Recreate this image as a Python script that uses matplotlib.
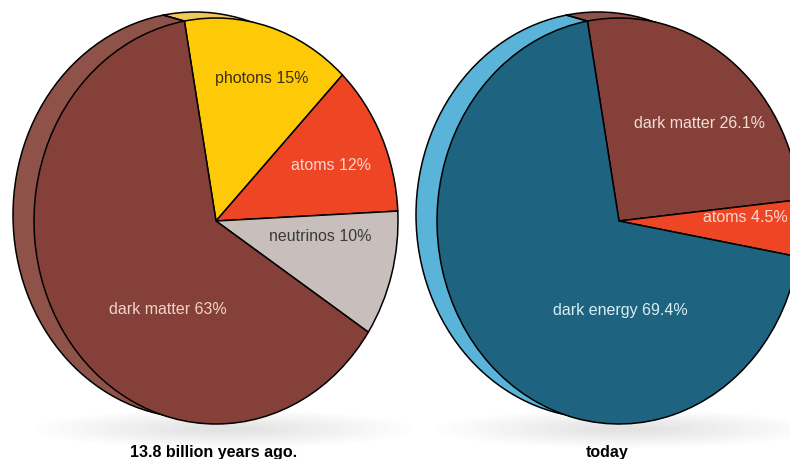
import numpy as np
import matplotlib.pyplot as plt
from matplotlib.patches import Ellipse

# Universe composition, clockwise from the top
early_labels = ["photons", "atoms", "neutrinos", "dark matter"]
early_values = [15, 12, 10, 63]
today_labels = ["dark matter", "atoms", "dark energy"]
today_values = [26.1, 4.5, 69.4]
captions = ["13.8 billion years ago.", "today"]

face = {"dark matter": "#854139", "photons": "#fec907", "atoms": "#ee4524",
        "neutrinos": "#c8bfbc", "dark energy": "#1e6480"}
rim = {"dark matter": "#8f5248", "photons": "#f4c75c", "atoms": "#e86a4f",
       "neutrinos": "#b8aca8", "dark energy": "#5ab3d9"}

W, H = 790, 460
RX, RY = 182, 203          # pixel radii of the tilted disc
SHIFT = (-21, 6)           # back face offset in pixels (x right, y up)

fig = plt.figure(figsize=(W / 100, H / 100), dpi=100)
bg = fig.add_axes([0, 0, 1, 1])
bg.set_xlim(0, W)
bg.set_ylim(H, 0)
bg.axis("off")


def px_text(x, y, s, **kw):
    fig.text(x / W, 1 - y / H, s, **kw)


def tilted_pie(cx, cy, labels, values, start):
    # soft floor shadow
    for k in range(14):
        s = 1 - k * 0.065
        bg.add_patch(Ellipse((cx + 8, cy + 208), 380 * s, 38 * s,
                             color="#a0a0a0", alpha=0.02, lw=0))

    ax = fig.add_axes([0, 0, 1, 1])
    sx, sy = SHIFT[0] / RX, SHIFT[1] / RY

    # side of the disc: stack of copies from back to front
    for t in np.linspace(1, 0.02, 40):
        ax.pie(values, colors=[rim[l] for l in labels], startangle=start,
               counterclock=False, center=(t * sx, t * sy), radius=1,
               wedgeprops=dict(linewidth=0))
    ax.add_patch(Ellipse((sx, sy), 2, 2, fill=False, edgecolor="black", lw=1.1))

    # slice seams running across the visible side
    bounds = start - np.cumsum([0] + values) * 3.6
    for b in bounds:
        th = np.radians(b)
        if SHIFT[0] * np.cos(th) * RY + SHIFT[1] * np.sin(th) * RX > 0:
            ax.plot([np.cos(th), np.cos(th) + sx], [np.sin(th), np.sin(th) + sy],
                    color="black", lw=1.1)

    ax.pie(values, colors=[face[l] for l in labels], startangle=start,
           counterclock=False, radius=1,
           wedgeprops=dict(edgecolor="black", linewidth=1.1))

    ax.set_aspect("auto")
    ax.set_xlim(-cx / RX, (W - cx) / RX)
    ax.set_ylim(-(H - cy) / RY, cy / RY)
    ax.axis("off")


tilted_pie(216, 222, early_labels, early_values, 100)
tilted_pie(619, 222, today_labels, today_values, 100)

label_font = dict(family="Liberation Sans", fontsize=11.5, ha="center", va="center")
slice_text = [
    (262, 78, f"photons {early_values[0]}%", "#3d2f14"),
    (331, 166, f"atoms {early_values[1]}%", "#f6d8cf"),
    (320, 237, f"neutrinos {early_values[2]}%", "#3a3a3a"),
    (168, 310, f"dark matter {early_values[3]}%", "#f2d2cc"),
    (700, 123, f"dark matter {today_values[0]}%", "#f0dcd8"),
    (745, 217, f"atoms {today_values[1]}%", "#f7d9d0"),
    (620, 310, f"dark energy {today_values[2]}%", "#d8eef5"),
]
for x, y, s, c in slice_text:
    px_text(x, y, s, color=c, **label_font)

for x, s in zip([214, 607], captions):
    px_text(x, 453, s, family="Liberation Sans", fontsize=11.5,
            fontweight="bold", ha="center", va="center", color="black")

fig.savefig("out.png", dpi=100)
